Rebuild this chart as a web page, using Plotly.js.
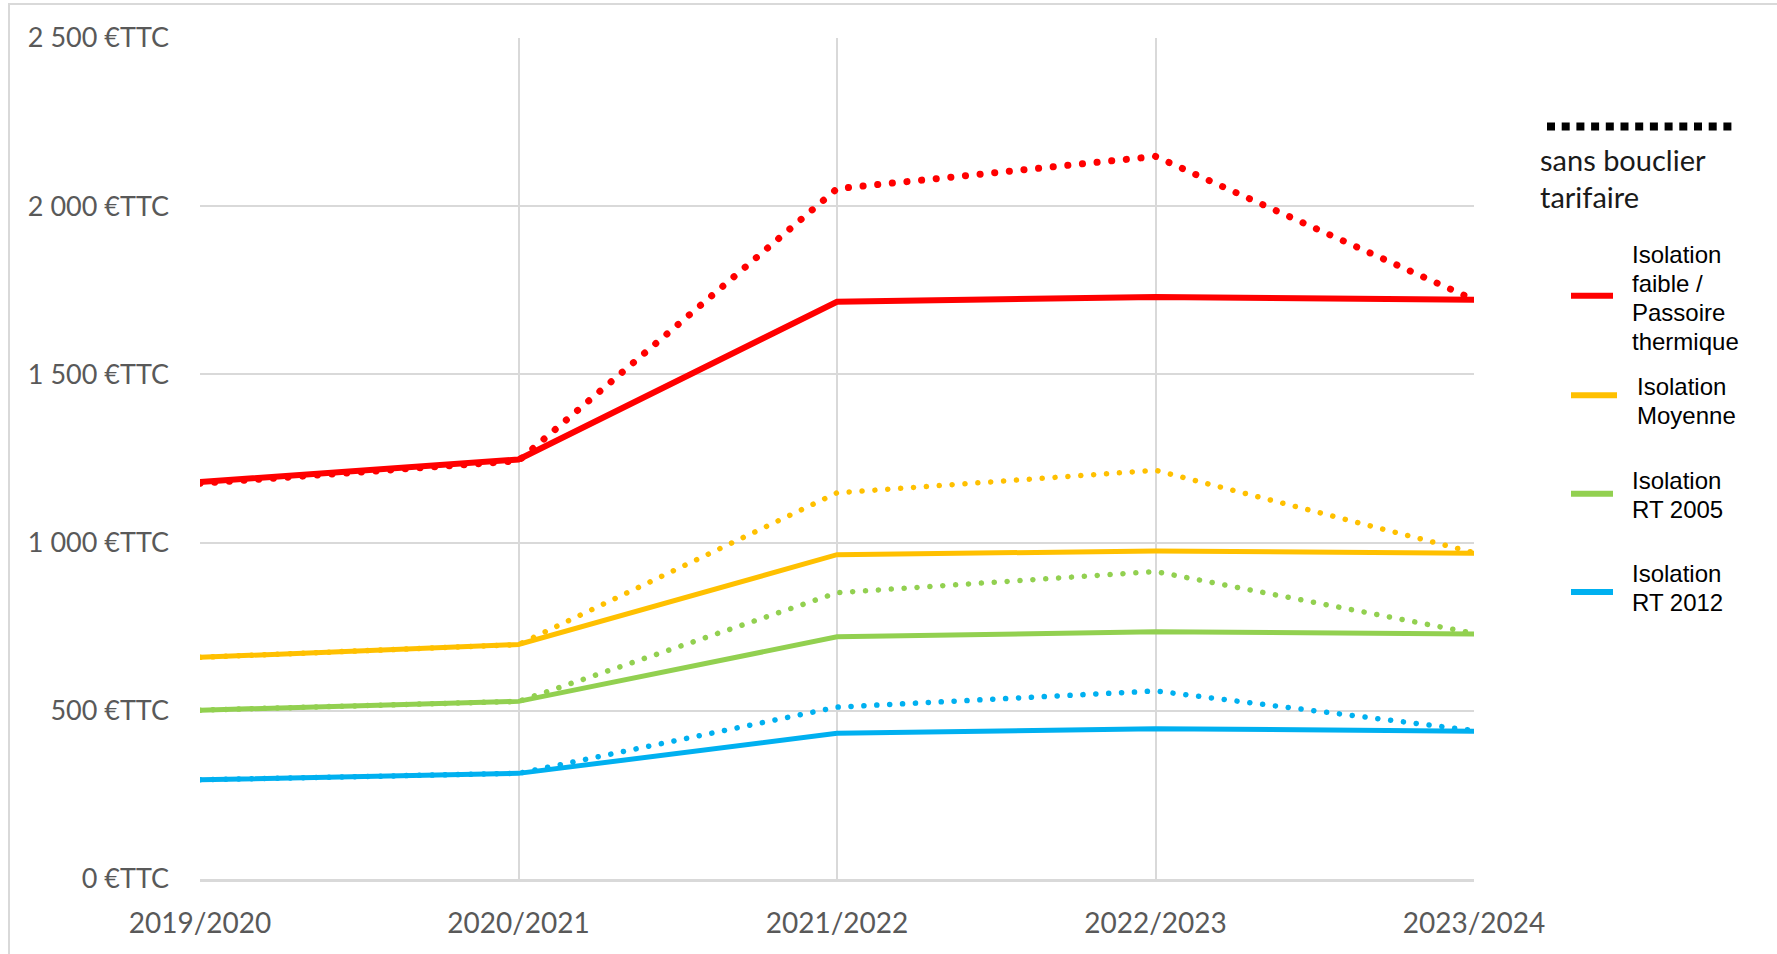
<!DOCTYPE html>
<html>
<head>
<meta charset="utf-8">
<script src="https://cdn.plot.ly/plotly-3.0.1.min.js"></script>
<style>
  html, body { margin: 0; padding: 0; background: #fff; }
  #wrap { position: relative; width: 1777px; height: 954px; overflow: hidden; }
  #chart { position: absolute; left: 0; top: 0; width: 1777px; height: 954px; }
  #frame { position: absolute; left: 8px; top: 3px; width: 1800px; height: 1000px;
           border-left: 2px solid #d9d9d9; border-top: 2px solid #d9d9d9; pointer-events: none; z-index: 5; }
  .scatterlayer .js-line { stroke-linecap: round; }
</style>
</head>
<body>
<div id="wrap">
  <div id="chart"></div>
  <div id="frame"></div>
</div>
<script>
// Categories (years)
const years = ["2019/2020", "2020/2021", "2021/2022", "2022/2023", "2023/2024"];

// With tariff shield (solid lines), €TTC
const faibleAvec   = [1180, 1247, 1716, 1730, 1722];
const moyenneAvec  = [659, 697, 964, 975, 968];
const rt2005Avec   = [502, 528, 720, 735, 728];
const rt2012Avec   = [295, 314, 433, 447, 439];

// Without tariff shield (dotted lines), €TTC
const faibleSans   = [1176, 1243, 2052, 2148, 1722];
const moyenneSans  = [659, 697, 1148, 1215, 970];
const rt2005Sans   = [502, 528, 851, 914, 730];
const rt2012Sans   = [295, 314, 511, 559, 441];

// Y tick values and labels
const yTickVals  = [0, 500, 1000, 1500, 2000, 2500];
const yTickTexts = ["0 €TTC", "500 €TTC", "1 000 €TTC", "1 500 €TTC", "2 000 €TTC", "2 500 €TTC"];

// Legend labels (one entry per line)
const legendLabels = [
  ["Isolation", "faible /", "Passoire", "thermique"],
  ["Isolation", "Moyenne"],
  ["Isolation", "RT 2005"],
  ["Isolation", "RT 2012"]
];
const sansLabel = ["sans bouclier", "tarifaire"];

const RED = "#FF0000", ORANGE = "#FFC000", GREEN = "#92D050", BLUE = "#00B0F0";

function solid(y, color, w) {
  return { x: years, y: y, type: "scatter", mode: "lines", showlegend: false, hoverinfo: "skip",
           line: { color: color, width: w } };
}
function dotted(y, color, w, gap) {
  return { x: years, y: y, type: "scatter", mode: "lines", showlegend: false, hoverinfo: "skip",
           line: { color: color, width: w, dash: "0.1px," + gap + "px" } };
}

const traces = [
  solid(rt2012Avec, BLUE, 5),
  solid(rt2005Avec, GREEN, 5),
  solid(moyenneAvec, ORANGE, 5),
  solid(faibleAvec, RED, 6),
  dotted(rt2012Sans, BLUE, 5.5, 12.8),
  dotted(rt2005Sans, GREEN, 5.5, 12.8),
  dotted(moyenneSans, ORANGE, 5.5, 12.8),
  dotted(faibleSans, RED, 7, 14.6)
];

// plot area: x 200..1474, y 38..879
const L = 200, R = 1474, T = 38, B = 879;
const W = R - L, H = B - T;
const px = v => (v - L) / W;
const py = v => (B - v) / H;

const legendColors = [RED, ORANGE, GREEN, BLUE];
const legendLineY = [295.7, 395.2, 493.8, 591.9];
const legendLineX1 = [1613, 1617, 1613, 1613];
const legendTextX = [1630, 1635, 1630, 1630];
const legendTextY0 = [254.5, 386, 480, 573];
const LINE_STEP = 29;

const shapes = [
  { type: "line", xref: "paper", yref: "paper", x0: px(1547), x1: px(1732), y0: py(126.4), y1: py(126.4),
    line: { color: "#000", width: 8, dash: "8px,6.7px" } }
];
const annotations = [];
sansLabel.forEach((t, j) => {
  annotations.push({ xref: "paper", yref: "paper", x: px(1538), y: py(159.2 + j * 37.3),
    xanchor: "left", yanchor: "middle", text: t, showarrow: false, align: "left",
    font: { family: "Lato, 'Open Sans', sans-serif", size: 29, color: "#1a1a1a" } });
});
for (let i = 0; i < 4; i++) {
  shapes.push({ type: "line", xref: "paper", yref: "paper",
    x0: px(1571), x1: px(legendLineX1[i]), y0: py(legendLineY[i]), y1: py(legendLineY[i]),
    line: { color: legendColors[i], width: 6 } });
  legendLabels[i].forEach((t, j) => {
    annotations.push({ xref: "paper", yref: "paper", x: px(legendTextX[i]), y: py(legendTextY0[i] + j * LINE_STEP),
      xanchor: "left", yanchor: "middle", text: t, showarrow: false, align: "left",
      font: { family: "'Liberation Sans', Arial, sans-serif", size: 24, color: "#000" } });
  });
}

const layout = {
  width: 1777, height: 954,
  margin: { l: L, r: 1777 - R, t: T, b: 954 - B, pad: 0 },
  paper_bgcolor: "#fff", plot_bgcolor: "#fff",
  showlegend: false,
  font: { family: "Lato, 'Open Sans', sans-serif", color: "#595959" },
  xaxis: {
    type: "category", range: [0, 4], categoryarray: years,
    showgrid: true, gridcolor: "#d9d9d9", gridwidth: 2,
    showline: true, linecolor: "#d9d9d9", linewidth: 2.5,
    ticks: "", ticklabelstandoff: 18,
    tickfont: { family: "Lato, 'Open Sans', sans-serif", size: 28, color: "#595959" },
    zeroline: false, fixedrange: true
  },
  yaxis: {
    range: [0, 2500], tickvals: yTickVals, ticktext: yTickTexts,
    showgrid: true, gridcolor: "#d9d9d9", gridwidth: 2,
    showline: false, zeroline: false, ticks: "", ticklabelstandoff: 30,
    tickfont: { family: "Lato, 'Open Sans', sans-serif", size: 27, color: "#595959" },
    fixedrange: true
  },
  shapes: shapes,
  annotations: annotations
};

Plotly.newPlot("chart", traces, layout, { staticPlot: true, displayModeBar: false });
</script>
</body>
</html>
